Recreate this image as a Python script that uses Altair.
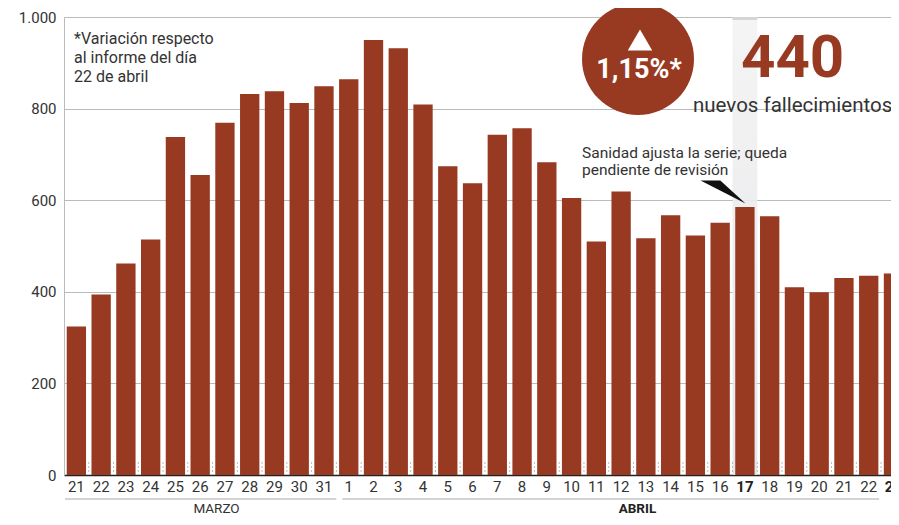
import altair as alt
import pandas as pd

# ---- data ----
days = ["21", "22", "23", "24", "25", "26", "27", "28", "29", "30", "31",
        "1", "2", "3", "4", "5", "6", "7", "8", "9", "10", "11", "12", "13",
        "14", "15", "16", "17", "18", "19", "20", "21", "22", "23"]
months = ["MARZO"] * 11 + ["ABRIL"] * 23
deaths = [324, 394, 462, 514, 738, 655, 769, 832, 838, 812, 849,
          864, 950, 932, 809, 674, 637, 743, 757, 683, 605, 510, 619, 517,
          567, 523, 551, 585, 565, 410, 399, 430, 435, 440]
bold_days = [27, 33]          # 17 and 23 de abril
highlight_day = 27            # 17 de abril
month_names = ["MARZO", "ABRIL"]
month_bold = [False, True]
month_line_start = [-0.46, 10.74]
month_line_end = [10.5, 32.42]
month_label_pos = [5.66, 22.66]
y_ticks = [0, 200, 400, 600, 800, 1000]

RED = "#983921"
TXT = "#333333"
FONT = "Roboto"

W, H = 827, 458

df = pd.DataFrame({
    "idx": list(range(len(days))),
    "day": days,
    "month": months,
    "value": deaths,
})
df["bold"] = df["idx"].isin(bold_days)
mdf = pd.DataFrame({"name": month_names, "bold": month_bold,
                    "x0": month_line_start, "x1": month_line_end,
                    "xl": month_label_pos})
one = pd.DataFrame({"a": [0]})

xs = alt.Scale(domain=[-0.5, 32.9], nice=False, zero=False)
ys = alt.Scale(domain=[0, 1000], nice=False)
xaxis = alt.Axis(labels=False, ticks=False, grid=False, domainColor="#222222",
                 domainWidth=1.5, title=None)
yaxis = alt.Axis(values=y_ticks, grid=True, gridColor="#bbbbbb", domainColor="#bbbbbb",
                 ticks=False, labelExpr="replace(format(datum.value, ','), ',', '.')",
                 labelFontSize=15, labelColor=TXT, labelPadding=8, title=None,
                 labelFont=FONT)

base = alt.Chart(df)

band = base.transform_filter(f"datum.idx == {highlight_day}").transform_calculate(
    x0="datum.idx - 0.5", x1="datum.idx + 0.5", y0="0", y1="1000"
).mark_rect(
    color=alt.Gradient(gradient="linear",
                       stops=[alt.GradientStop(color="#f3f3f4", offset=0),
                              alt.GradientStop(color="#e2e3e5", offset=1)],
                       x1=0, x2=0, y1=0, y2=1),
    opacity=0.9
).encode(
    x=alt.X("x0:Q", scale=xs, axis=xaxis), x2="x1:Q",
    y=alt.Y("y0:Q", scale=ys, axis=yaxis), y2="y1:Q",
)
band_cap = base.transform_filter(f"datum.idx == {highlight_day}").transform_calculate(
    x0="datum.idx - 0.5", x1="datum.idx + 0.5"
).mark_rect(color="#d4d5d7").encode(
    x=alt.X("x0:Q", scale=xs, axis=xaxis), x2="x1:Q",
    y=alt.value(0), y2=alt.value(3),
)

bars = base.transform_calculate(
    x0="datum.idx - 0.39", x1="datum.idx + 0.39"
).mark_bar(color=RED, clip=True).encode(
    x=alt.X("x0:Q", scale=xs, axis=xaxis), x2="x1:Q",
    y=alt.Y("value:Q", scale=ys, axis=yaxis), y2=alt.datum(0),
)

seps = base.transform_filter(f"datum.idx < {len(days) - 1}").transform_calculate(
    xs_="datum.idx + 0.5"
).mark_rule(color="#bbbbbb", strokeDash=[2, 2], strokeWidth=1, clip=True).encode(
    x=alt.X("xs_:Q", scale=xs, axis=xaxis),
    y=alt.value(H - 13), y2=alt.value(H),
)

xlab_n = base.transform_filter("!datum.bold").mark_text(
    fontSize=15, color=TXT, baseline="alphabetic", align="center", font=FONT
).encode(x=alt.X("idx:Q", scale=xs, axis=xaxis), y=alt.value(H + 17), text="day:N")
xlab_b = base.transform_filter("datum.bold").mark_text(
    fontSize=15, color="#222222", baseline="alphabetic", align="center",
    fontWeight="bold", font=FONT
).encode(x=alt.X("idx:Q", scale=xs, axis=xaxis), y=alt.value(H + 17), text="day:N")

mbase = alt.Chart(mdf)
mrules = mbase.mark_rule(color="#aaaaaa", strokeWidth=1.2).encode(
    x=alt.X("x0:Q", scale=xs, axis=xaxis), x2="x1:Q", y=alt.value(H + 24))
mlab_n = mbase.transform_filter("!datum.bold").mark_text(
    fontSize=13.5, color=TXT, baseline="alphabetic", font=FONT
).encode(x=alt.X("xl:Q", scale=xs, axis=xaxis), y=alt.value(H + 38), text="name:N")
mlab_b = mbase.transform_filter("datum.bold").mark_text(
    fontSize=13.5, color="#222222", baseline="alphabetic", fontWeight="bold", font=FONT
).encode(x=alt.X("xl:Q", scale=xs, axis=xaxis), y=alt.value(H + 38), text="name:N")

c1 = alt.Chart(one)
note = c1.mark_text(
    text=["*Variación respecto", "al informe del día", "22 de abril"],
    align="left", baseline="alphabetic", fontSize=16, lineHeight=19, color=TXT, font=FONT
).encode(x=alt.value(10), y=alt.value(27))

sanidad = c1.mark_text(
    text=["Sanidad ajusta la serie; queda", "pendiente de revisión"],
    align="left", baseline="alphabetic", fontSize=15.5, lineHeight=16.5, color=TXT, font=FONT
).encode(x=alt.value(518), y=alt.value(141))

wedge = c1.mark_point(
    shape="M -1 -0.51 L -0.12 -0.51 L 1 0.51 Z", filled=True, color="#111111",
    size=2025, opacity=1
).encode(x=alt.value(659), y=alt.value(175))

circle = c1.mark_point(shape="circle", filled=True, color=RED, size=12544, opacity=1).encode(
    x=alt.value(574), y=alt.value(42))
tri = c1.mark_point(shape="triangle-up", filled=True, color="white", size=600, opacity=1).encode(
    x=alt.value(576), y=alt.value(23))
pct = c1.mark_text(text="1,15%*", color="white", fontWeight="bold", fontSize=27,
                   align="center", baseline="alphabetic", font=FONT).encode(
    x=alt.value(575), y=alt.value(61))
big = c1.mark_text(text="440", color=RED, fontWeight="bold", fontSize=60,
                   align="left", baseline="alphabetic", font=FONT).encode(
    x=alt.value(677), y=alt.value(60))
nuevos = c1.mark_text(text="nuevos fallecimientos", color=TXT, fontSize=20.5,
                      align="left", baseline="alphabetic", font=FONT).encode(
    x=alt.value(629), y=alt.value(95))

chart = alt.layer(
    band, band_cap, bars, seps, xlab_n, xlab_b, mrules, mlab_n, mlab_b,
    note, sanidad, wedge, circle, tri, pct, big, nuevos
).properties(
    width=W, height=H,
    padding={"left": 56, "top": 9, "right": 0, "bottom": 41},
    autosize=alt.AutoSizeParams(type="none"),
    background="white",
).configure_view(strokeWidth=0)

chart.save("out.html", embed_options={"renderer": "svg", "actions": False})
